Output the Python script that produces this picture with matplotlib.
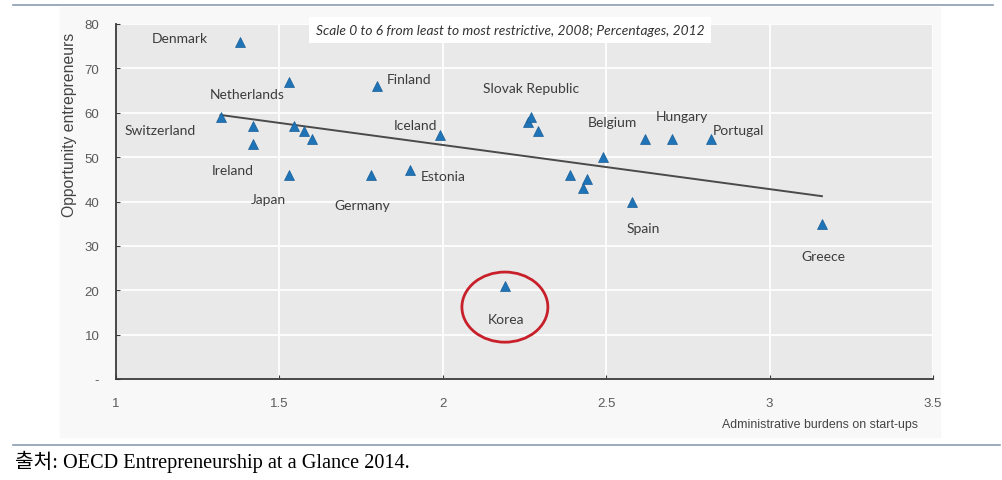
"""OECD scatter: administrative burdens on start-ups vs opportunity entrepreneurs.
"""

import numpy as np
import matplotlib as M
M.use('Agg')
import matplotlib.pyplot as plt
from matplotlib.patches import Ellipse, Rectangle
from matplotlib import font_manager

# --- data ------------------------------------------------------------------
countries = ['Denmark', 'Netherlands', 'Switzerland', '', 'Ireland', '', '', '',
             'Japan', 'Finland', 'Germany', 'Estonia', 'Iceland',
             '', 'Slovak Republic', '', 'Belgium', '', '', '', 'Spain',
             '', 'Hungary', 'Portugal', 'Greece', 'Korea']
admin_burden = [1.38, 1.53, 1.32, 1.42, 1.42, 1.545, 1.575, 1.60,
                1.53, 1.80, 1.78, 1.90, 1.99,
                2.26, 2.27, 2.29, 2.49, 2.39, 2.43, 2.44, 2.58,
                2.62, 2.70, 2.82, 3.16, 2.19]
opportunity = [76, 67, 59, 57, 53, 57, 56, 54,
               46, 66, 46, 47, 55,
               58, 59, 56, 50, 46, 43, 45, 40,
               54, 54, 54, 35, 21]
trend_x = [1.32, 3.16]
trend_y = [59.5, 41.2]

x_ticks = [1, 1.5, 2, 2.5, 3, 3.5]
x_ticklabels = ['1', '1.5', '2', '2.5', '3', '3.5']
y_ticks = [0, 10, 20, 30, 40, 50, 60, 70, 80]
y_ticklabels = ['-', '10', '20', '30', '40', '50', '60', '70', '80']

# label placement (pixel offsets from the marker), layout only
label_offsets = {
    'Denmark': (-60, 4), 'Netherlands': (-42, -12), 'Switzerland': (-60, -13),
    'Ireland': (-21, -26), 'Japan': (-21, -24), 'Finland': (32, 7),
    'Germany': (-9, -30), 'Estonia': (33, -6), 'Iceland': (-24, 10),
    'Slovak Republic': (0, 29), 'Belgium': (9, 35), 'Spain': (11, -27),
    'Hungary': (10, 23), 'Portugal': (28, 9), 'Greece': (1, -32),
    'Korea': (1, -33),
}

def pick(*names):
    avail = {f.name for f in font_manager.fontManager.ttflist}
    return [n for n in names if n in avail] + ['DejaVu Sans']

narrow = pick('Liberation Sans Narrow', 'Liberation Sans')
label_font = pick('Lato', 'Open Sans')

fig = plt.figure(figsize=(10.03, 4.81), dpi=100)
W, H = 1003, 481

# faint image background + rules
fig.patches.append(Rectangle((60 / W, 1 - 438 / H), 880 / W, 430 / H,
                             transform=fig.transFigure, color='#f8f8f8', zorder=-5))
fig.add_artist(plt.Line2D([13 / W, 993 / W], [1 - 6 / H, 1 - 6 / H],
                          color='#8c9cb0', lw=1.2))
fig.add_artist(plt.Line2D([13 / W, 1000 / W], [1 - 446 / H, 1 - 446 / H],
                          color='#8c9cb0', lw=1.2))

ax = fig.add_axes([116 / W, 1 - 380 / H, 817 / W, 355 / H])
ax.set_zorder(1)
ax.set_facecolor('#e9e9e9')
ax.set_xlim(1, 3.5)
ax.set_ylim(0, 80)
ax.grid(True, color='white', lw=1.3)
ax.set_axisbelow(True)
for s in ['top', 'right']:
    ax.spines[s].set_visible(False)
for s in ['left', 'bottom']:
    ax.spines[s].set_color('#3a3a3a')
    ax.spines[s].set_linewidth(1.3)

ax.set_xticks(x_ticks)
ax.set_xticklabels(x_ticklabels)
ax.set_yticks(y_ticks)
ax.set_yticklabels(y_ticklabels)
ax.tick_params(axis='both', direction='in', length=3, color='#3a3a3a',
               labelcolor='#5a5a5a', labelsize=9.5)
ax.tick_params(axis='x', pad=13)
ax.tick_params(axis='y', pad=12)
for t in ax.get_xticklabels() + ax.get_yticklabels():
    t.set_family(narrow)

# trend line and points
ax.plot(trend_x, trend_y, color='#4a4a4a', lw=1.4, zorder=2)
ax.plot(admin_burden, opportunity, linestyle='none', marker='^', ms=7,
        color='#1f73b7', mec='#1a5f96', mew=0.5, zorder=3)

for name, xv, yv in zip(countries, admin_burden, opportunity):
    if not name:
        continue
    ax.annotate(name, (xv, yv), xytext=label_offsets[name],
                textcoords='offset pixels', ha='center', va='center',
                fontsize=10, color='#3c3c3c', family=label_font)

# Korea highlighted
ax.add_patch(Ellipse((2.19, 16.2), 0.263, 15.8, fill=False,
                     edgecolor='#c8202a', lw=2, zorder=4))

# texts
fig.text(510 / W, 1 - 31 / H,
         'Scale 0 to 6 from least to most restrictive, 2008; Percentages, 2012',
         ha='center', va='center', fontsize=9.9, style='italic', color='#333333',
         family=label_font, zorder=5,
         bbox=dict(facecolor='white', edgecolor='none', pad=5))
fig.text(70 / W, 1 - 125 / H, 'Opportunity entrepreneurs', rotation=90,
         ha='center', va='center', fontsize=11.3, color='#444444',
         family=pick('Liberation Sans'))
fig.text(820 / W, 1 - 425 / H, 'Administrative burdens on start-ups',
         ha='center', va='center', fontsize=8.9, color='#444444', family=narrow)
fig.text(15 / W, 1 - 462 / H, '출처: OECD Entrepreneurship at a Glance 2014.',
         ha='left', va='center', fontsize=14.6, color='black',
         family=['Liberation Serif', 'Noto Sans CJK KR'])

fig.savefig('out.png', dpi=100)
